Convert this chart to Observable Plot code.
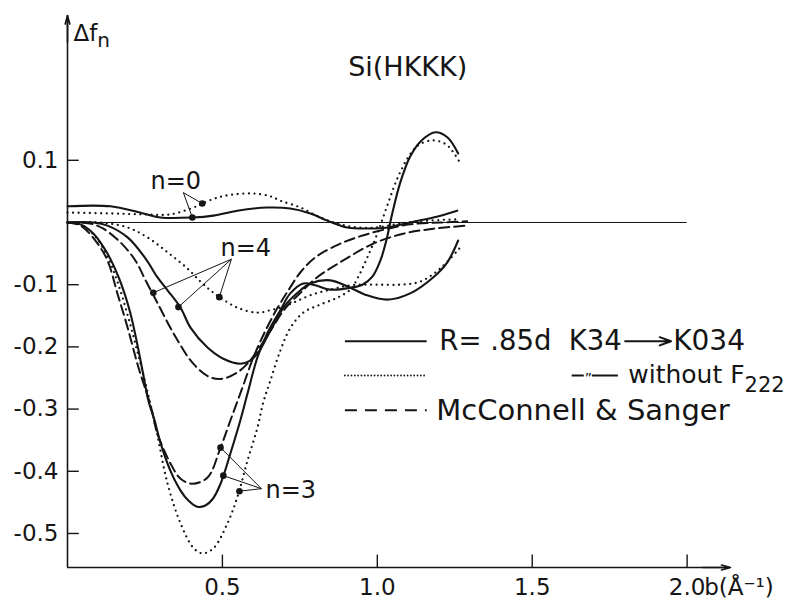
<!DOCTYPE html>
<html><head><meta charset="utf-8">
<script src="https://cdn.jsdelivr.net/npm/d3@7"></script>
<script src="https://cdn.jsdelivr.net/npm/@observablehq/plot@0.6"></script>
<style>body{margin:0;background:#fff} svg{display:block}</style>
</head><body><div id="chart"></div>
<script>
// ---- data: [b (1/Å), Δf_n] ----
const n0Solid = [[0,0.026],[0.139,0.026],[0.245,0.0145],[0.3,0.008],[0.403,0.008],[0.471,0.011],[0.548,0.019],[0.645,0.024],[0.719,0.0225],[0.784,0.0145],[0.839,0.003],[0.903,-0.008],[0.977,-0.0096],[1.032,-0.008],[1.106,0],[1.181,0.008],[1.258,0.019]];
const n0Dotted = [[0,0.016],[0.139,0.0145],[0.245,0.013],[0.332,0.013],[0.406,0.024],[0.435,0.0305],[0.484,0.040],[0.535,0.045],[0.6,0.0466],[0.655,0.042],[0.687,0.035],[0.752,0.024],[0.816,0.008],[0.871,-0.0016],[0.935,-0.008],[1.0,-0.008],[1.074,-0.0016],[1.161,0.003],[1.268,0.005]];
const n3Solid = [[0,0],[0.042,-0.003],[0.084,-0.018],[0.129,-0.05],[0.165,-0.088],[0.184,-0.114],[0.203,-0.146],[0.223,-0.19],[0.242,-0.238],[0.261,-0.286],[0.281,-0.318],[0.3,-0.354],[0.332,-0.399],[0.365,-0.431],[0.39,-0.447],[0.419,-0.457],[0.445,-0.455],[0.468,-0.445],[0.494,-0.42],[0.526,-0.371],[0.558,-0.318],[0.581,-0.275],[0.613,-0.217],[0.645,-0.178],[0.687,-0.141],[0.719,-0.114],[0.761,-0.098],[0.8,-0.101],[0.848,-0.108],[0.913,-0.105],[0.952,-0.1],[0.984,-0.087],[1.01,-0.061],[1.029,-0.029],[1.048,0.014],[1.074,0.064],[1.106,0.106],[1.139,0.13],[1.187,0.145],[1.226,0.137],[1.261,0.111]];
const n3Dashed = [[0,0],[0.042,-0.005],[0.09,-0.029],[0.129,-0.061],[0.161,-0.114],[0.194,-0.169],[0.229,-0.233],[0.268,-0.294],[0.29,-0.339],[0.332,-0.387],[0.365,-0.412],[0.403,-0.42],[0.452,-0.41],[0.494,-0.362],[0.526,-0.318],[0.565,-0.265],[0.6,-0.217],[0.639,-0.174],[0.677,-0.138],[0.713,-0.109],[0.752,-0.08],[0.8,-0.056],[0.881,-0.034],[0.952,-0.021],[1.026,-0.011],[1.106,-0.003],[1.203,0],[1.29,0.002]];
const n3Dotted = [[0,0],[0.042,-0.003],[0.09,-0.023],[0.132,-0.058],[0.165,-0.101],[0.197,-0.154],[0.229,-0.214],[0.261,-0.278],[0.29,-0.342],[0.323,-0.42],[0.365,-0.484],[0.406,-0.523],[0.435,-0.532],[0.471,-0.524],[0.516,-0.484],[0.548,-0.442],[0.581,-0.383],[0.613,-0.33],[0.632,-0.289],[0.655,-0.254],[0.687,-0.206],[0.719,-0.17],[0.761,-0.145],[0.816,-0.132],[0.871,-0.121],[0.913,-0.108],[0.939,-0.087],[0.968,-0.056],[1.0,-0.018],[1.032,0.027],[1.065,0.071],[1.1,0.105],[1.132,0.124],[1.181,0.132],[1.226,0.124],[1.268,0.095]];
const n4Solid = [[0,0],[0.084,0],[0.129,-0.005],[0.194,-0.024],[0.252,-0.058],[0.29,-0.088],[0.323,-0.109],[0.365,-0.137],[0.397,-0.169],[0.452,-0.201],[0.503,-0.219],[0.558,-0.227],[0.59,-0.222],[0.616,-0.209],[0.655,-0.174],[0.703,-0.133],[0.752,-0.109],[0.784,-0.098],[0.848,-0.093],[0.913,-0.105],[0.961,-0.116],[1.032,-0.124],[1.106,-0.114],[1.181,-0.088],[1.226,-0.064],[1.261,-0.029]];
const n4Dashed = [[0,0],[0.042,0],[0.084,-0.003],[0.116,-0.01],[0.171,-0.032],[0.219,-0.061],[0.252,-0.093],[0.29,-0.129],[0.342,-0.178],[0.406,-0.227],[0.461,-0.249],[0.503,-0.251],[0.548,-0.241],[0.581,-0.227],[0.613,-0.206],[0.655,-0.174],[0.703,-0.138],[0.752,-0.113],[0.806,-0.088],[0.89,-0.061],[0.987,-0.034],[1.084,-0.018],[1.181,-0.01],[1.29,-0.005]];
const n4Dotted = [[0,0],[0.106,0],[0.194,-0.008],[0.258,-0.024],[0.323,-0.048],[0.387,-0.074],[0.429,-0.095],[0.461,-0.109],[0.494,-0.121],[0.548,-0.137],[0.613,-0.145],[0.655,-0.141],[0.687,-0.137],[0.729,-0.129],[0.784,-0.117],[0.848,-0.108],[0.913,-0.101],[0.994,-0.1],[1.074,-0.1],[1.139,-0.095],[1.203,-0.074],[1.268,-0.04]];

// annotation: label, label position, pointer apex, marked points
const annLabels = ["n=0","n=4","n=3"];
const annLabelPos = [[0.268,0.066],[0.494,-0.042],[0.639,-0.431]];
const annApex = [[0.374,0.048],[0.529,-0.059],[0.626,-0.428]];
const annPoints = [
  [[0.403,0.008],[0.435,0.0305]],
  [[0.277,-0.113],[0.358,-0.136],[0.49,-0.120]],
  [[0.494,-0.362],[0.503,-0.407],[0.555,-0.432]]
];

// axes
const xTicks = [0.5,1.0,1.5,2.0];
const xTickLabels = ["0.5","1.0","1.5","2.0"];
const yTicks = [0.1,-0.1,-0.2,-0.3,-0.4,-0.5];
const yTickLabels = ["0.1","-0.1","-0.2","-0.3","-0.4","-0.5"];

// legend
const legendStyles = ["solid","dotted","dashed"];
const legendTexts = ["R= .85d  K34","","McConnell & Sanger"];

// ---- layout ----
const FONT = "'DejaVu Sans', sans-serif";
const X_DOMAIN = [0, 2.14], Y_DOMAIN = [-0.5547, 0.3328];
const yMin = Y_DOMAIN[0];
const styleOf = {
  solid: {strokeWidth: 2.1},
  dashed: {strokeWidth: 2.0, strokeDasharray: "10 5"},
  dotted: {strokeWidth: 2.3, strokeDasharray: "0 5.6", strokeLinecap: "round"}
};
const curves = [
  ["n0","solid",n0Solid],["n0","dotted",n0Dotted],
  ["n3","solid",n3Solid],["n3","dashed",n3Dashed],["n3","dotted",n3Dotted],
  ["n4","solid",n4Solid],["n4","dashed",n4Dashed],["n4","dotted",n4Dotted]
];
const table = curves.flatMap(([n, s, pts]) => pts.map(([x, y]) => ({id: n + s, style: s, x, y})));

const legendRowY = [-0.191, -0.246, -0.302];
const legend = legendStyles.map((s, i) => ({style: s, text: legendTexts[i], y: legendRowY[i]}));

const pointerLinks = annPoints.flatMap((pts, i) => pts.map(p => ({x1: annApex[i][0], y1: annApex[i][1], x2: p[0], y2: p[1]})));
const markers = annPoints.flat().map(([x, y]) => ({x, y}));
const labels = annLabels.map((t, i) => ({text: t, x: annLabelPos[i][0], y: annLabelPos[i][1]}));

const ink = "#151515";
const marks = [
  Plot.ruleY([0], {x1: 0, x2: 2.0, stroke: ink, strokeWidth: 1}),
  ...["solid","dashed","dotted"].map(s =>
    Plot.line(table.filter(d => d.style === s), {x: "x", y: "y", z: "id", stroke: ink, curve: "catmull-rom", ...styleOf[s]})),
  // axes
  Plot.ruleX([0], {y1: yMin, y2: Y_DOMAIN[1], stroke: ink, strokeWidth: 1.6}),
  Plot.ruleY([yMin], {x1: 0, x2: X_DOMAIN[1], stroke: ink, strokeWidth: 1.6}),
  Plot.arrow([0], {x1: 0, x2: 0, y1: 0.29, y2: Y_DOMAIN[1], stroke: ink, strokeWidth: 1.6, headLength: 12, headAngle: 30}),
  Plot.arrow([0], {x1: 2.05, x2: X_DOMAIN[1], y1: yMin, y2: yMin, stroke: ink, strokeWidth: 1.6, headLength: 12, headAngle: 30}),
  Plot.ruleY(yTicks, {x1: 0, x2: 0.038, stroke: ink, strokeWidth: 1.4}),
  Plot.ruleX(xTicks, {y1: yMin, y2: yMin + 0.02, stroke: ink, strokeWidth: 1.4}),
  Plot.text(yTicks, {x: 0, y: d => d, text: (d, i) => yTickLabels[i], dx: -9, textAnchor: "end", fontSize: 23, fill: ink}),
  Plot.text(xTicks, {x: d => d, y: yMin, text: (d, i) => xTickLabels[i], dy: 20, fontSize: 23, fill: ink}),
  Plot.text(["b(Å⁻¹)"], {x: 2.0, y: yMin, text: d => d, dx: 17, dy: 20, textAnchor: "start", fontSize: 23, fill: ink}),
  Plot.text(["Δf"], {x: 0, y: Y_DOMAIN[1], text: d => d, dx: 6, dy: 18, textAnchor: "start", fontSize: 23, fill: ink}),
  Plot.text(["Si(HKKK)"], {x: 0.906, y: 0.249, text: d => d, textAnchor: "start", fontSize: 27, fill: ink}),
  // annotations
  Plot.link(pointerLinks, {x1: "x1", y1: "y1", x2: "x2", y2: "y2", stroke: ink, strokeWidth: 1}),
  Plot.dot(markers, {x: "x", y: "y", r: 3.3, fill: ink}),
  Plot.text(labels, {x: "x", y: "y", text: "text", textAnchor: "start", fontSize: 24, fill: ink}),
  // legend
  ...legendStyles.map(s => Plot.ruleY(legend.filter(d => d.style === s), {y: "y", x1: 0.897, x2: 1.161, stroke: ink, ...styleOf[s], strokeDasharray: s === "dotted" ? "0 3.3" : s === "dashed" ? "12 8" : null, strokeWidth: s === "dotted" ? 1.8 : 2})),
  Plot.text(legend.filter(d => d.style === "solid"), {x: 1.2, y: "y", text: "text", textAnchor: "start", fontSize: 27.5, fill: ink}),
  Plot.text(legend.filter(d => d.style === "dashed"), {x: 1.19, y: "y", text: "text", textAnchor: "start", fontSize: 29, fill: ink}),
  Plot.arrow([0], {x1: 1.8, x2: 1.948, y1: legendRowY[0], y2: legendRowY[0], stroke: ink, strokeWidth: 2, headLength: 9, headAngle: 40}),
  Plot.text(["K034"], {x: 1.955, y: legendRowY[0], text: d => d, textAnchor: "start", fontSize: 28, fill: ink}),
  Plot.ruleY([legendRowY[1]], {x1: 1.629, x2: 1.668, stroke: ink, strokeWidth: 2}),
  Plot.ruleY([legendRowY[1]], {x1: 1.694, x2: 1.778, stroke: ink, strokeWidth: 2}),
  Plot.text(["\u201D"], {x: 1.681, y: legendRowY[1], text: d => d, dy: 3, fontSize: 14, fill: ink}),
  Plot.text(["without F"], {x: 1.81, y: legendRowY[1], text: d => d, textAnchor: "start", fontSize: 25, fill: ink})
];

const svg = Plot.plot({
  width: 795, height: 600,
  marginLeft: 67, marginRight: 65, marginTop: 15, marginBottom: 33,
  x: {domain: X_DOMAIN, axis: null},
  y: {domain: Y_DOMAIN, axis: null},
  style: {fontFamily: FONT, background: "#fff", color: ink, overflow: "visible"},
  marks
});

function addSub(base, sub, size, dy) {
  for (const t of svg.querySelectorAll("text")) {
    if (t.textContent === base) {
      const ts = document.createElementNS("http://www.w3.org/2000/svg", "tspan");
      ts.setAttribute("dy", dy);
      ts.setAttribute("font-size", size);
      ts.textContent = sub;
      t.appendChild(ts);
    }
  }
}
addSub("Δf", "n", 20, 6);
addSub("without F", "222", 21, 9);
document.getElementById("chart").appendChild(svg);
</script></body></html>
